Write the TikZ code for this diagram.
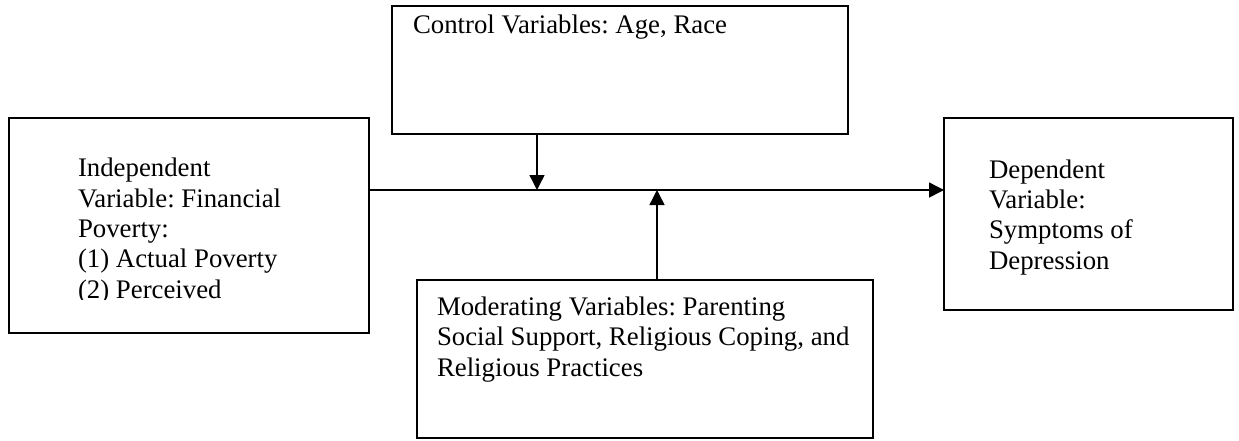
\documentclass[tikz,border=0pt]{standalone}
\usepackage{fontspec}
\setmainfont{Liberation Serif}
\usetikzlibrary{arrows.meta}
\frenchspacing
\begin{document}
\begin{tikzpicture}[x=1pt,y=-1pt,
  box/.style={draw, line width=1.4pt, rectangle, inner sep=0pt, outer sep=0pt},
  txt/.style={anchor=base west, align=left, inner sep=0pt, outer sep=0pt,
    font=\fontsize{26.8}{30.3}\selectfont},
  conn/.style={line width=1.4pt, -{Triangle[length=15pt,width=15pt]}}]
\useasboundingbox (0,0) rectangle (1239,440);
% boxes
\node[box, minimum width=360pt, minimum height=215pt] (indep) at (189,225.5) {};
\node[box, minimum width=456pt, minimum height=128pt] (ctrl) at (620,70) {};
\node[box, minimum width=289pt, minimum height=192pt] (dep) at (1088.5,214) {};
\node[box, minimum width=456pt, minimum height=158pt] (mod) at (645,359) {};
% texts (anchored at the baseline of the last line)
\begin{scope}
\clip (0,110) rectangle (400,299);
\node[txt] (tindep) at (78,298) {Independent\\Variable: Financial\\Poverty:\\(1) Actual Poverty\\(2) Perceived};
\end{scope}
\node[txt] (tctrl) at (413,33) {Control Variables: Age, Race};
\node[txt] (tdep) at (989,269) {Dependent\\Variable:\\Symptoms of\\Depression};
\node[txt] (tmod) at (437,376) {Moderating Variables: Parenting\\Social Support, Religious Coping, and\\Religious Practices};
% connectors
\coordinate (jc) at (537,190);
\coordinate (jm) at (657,190);
\draw[conn] (indep.east |- jc) -- (dep.west |- jc);
\draw[conn] (ctrl.south -| jc) -- (jc);
\draw[conn] (mod.north -| jm) -- (jm);
\end{tikzpicture}
\end{document}
